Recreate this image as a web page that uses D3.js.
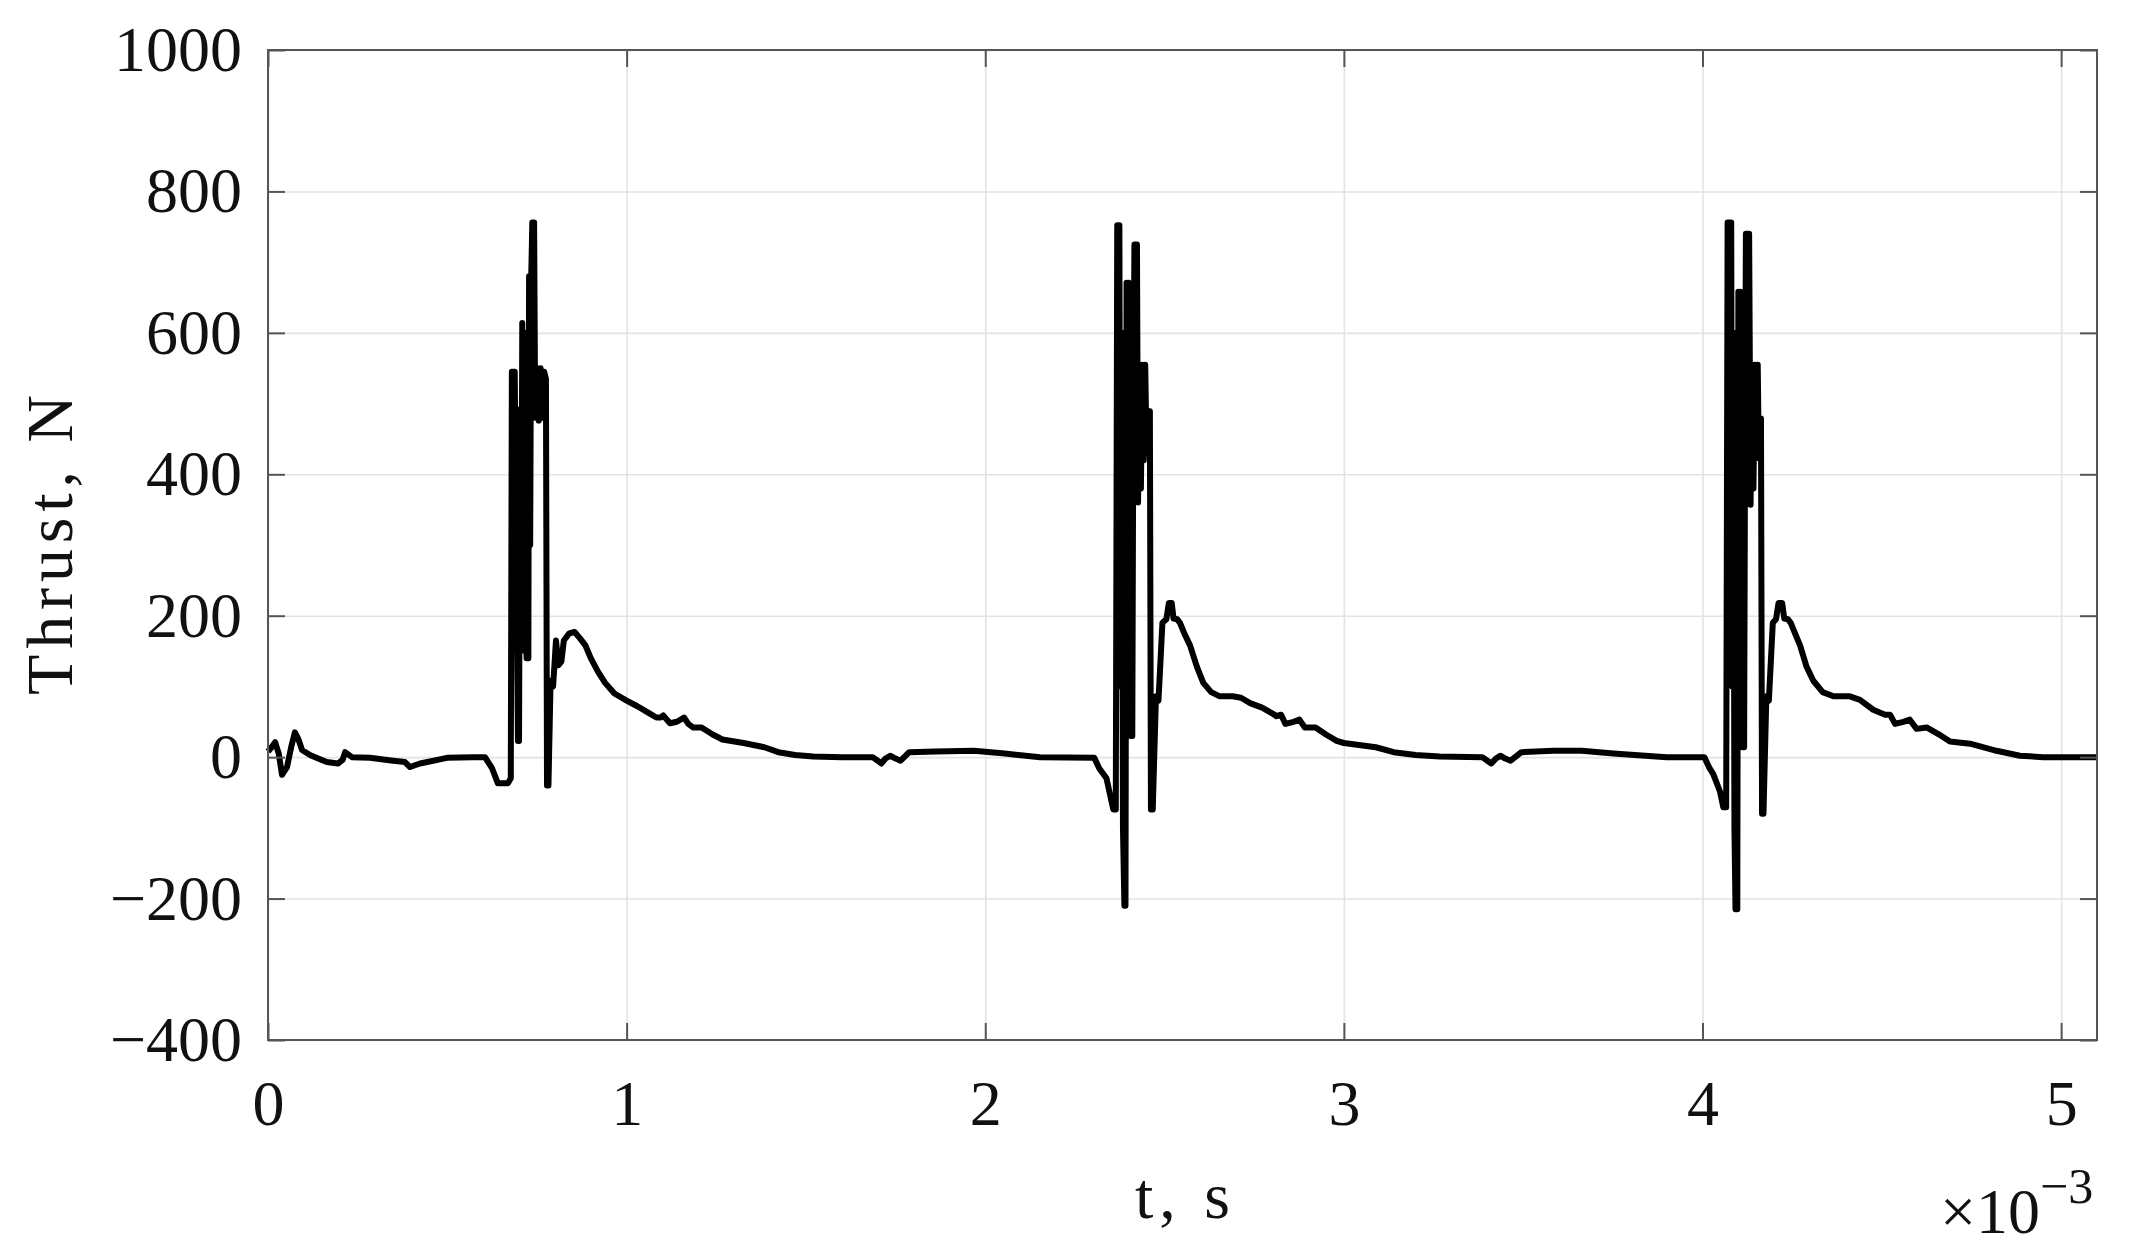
<!DOCTYPE html>
<html>
<head>
<meta charset="utf-8">
<script src="https://cdn.jsdelivr.net/npm/d3@7"></script>
<style>
  html, body { margin: 0; padding: 0; background: #fff; }
  svg { display: block; }
</style>
</head>
<body>
<svg id="chart" width="2142" height="1255"></svg>
<script>
// ---- Data: [time (×1e-3 s), thrust (N)] ----
const startup = [
  [0.000, 8], [0.010, 14], [0.020, 21], [0.030, 5], [0.039, -25], [0.053, -14],
  [0.065, 15], [0.075, 35], [0.085, 25], [0.095, 10], [0.117, 3], [0.140, -2],
  [0.164, -7], [0.195, -9], [0.208, -4], [0.215, 7], [0.234, 0], [0.284, -1],
  [0.349, -5], [0.382, -7], [0.396, -14], [0.424, -9], [0.499, -1], [0.572, 0],
  [0.605, 0], [0.625, -16], [0.641, -37], [0.669, -37], [0.677, -30]
];
const burst1 = [
  [0.680, 545], [0.688, 545], [0.692, 300], [0.697, 23], [0.700, 23], [0.703, 492],
  [0.706, 150], [0.709, 614], [0.712, 180], [0.715, 600], [0.718, 200], [0.721, 140],
  [0.724, 560], [0.726, 140], [0.728, 680], [0.731, 300], [0.734, 680], [0.737, 756],
  [0.742, 756], [0.745, 480], [0.750, 550], [0.755, 476], [0.760, 550], [0.765, 480],
  [0.770, 545], [0.775, 535], [0.778, -40], [0.782, -40], [0.788, 108], [0.795, 100],
  [0.803, 165], [0.810, 130], [0.818, 135], [0.825, 165]
];
const decay1 = [
  [0.840, 175], [0.855, 177], [0.870, 168], [0.885, 158], [0.900, 140], [0.920, 121],
  [0.940, 105], [0.966, 90], [1.000, 80], [1.030, 72], [1.060, 63], [1.083, 56],
  [1.095, 56], [1.102, 59], [1.121, 48], [1.140, 50], [1.160, 56], [1.172, 47],
  [1.185, 42], [1.209, 42], [1.240, 32], [1.267, 25], [1.326, 20], [1.384, 14],
  [1.423, 7], [1.470, 3], [1.520, 1], [1.600, 0], [1.686, 0], [1.700, -5],
  [1.710, -9], [1.722, -2], [1.735, 2], [1.750, -2], [1.764, -5], [1.788, 7],
  [1.861, 8], [1.968, 9], [2.055, 5], [2.153, 0], [2.304, -1], [2.318, -16],
  [2.338, -30], [2.357, -74], [2.364, -74]
];
const burst2 = [
  [2.368, 752], [2.374, 752], [2.377, 100], [2.380, 600], [2.384, -100], [2.388, -210],
  [2.391, -210], [2.394, 671], [2.397, 150], [2.400, 671], [2.403, 200], [2.406, 30],
  [2.410, 30], [2.413, 500], [2.416, 725], [2.423, 725], [2.426, 360], [2.430, 555],
  [2.434, 380], [2.438, 555], [2.442, 420], [2.446, 555], [2.450, 430], [2.453, 489],
  [2.459, 489], [2.462, -74], [2.467, -74], [2.476, 86], [2.483, 80], [2.490, 150],
  [2.494, 190], [2.505, 195], [2.512, 218], [2.520, 218], [2.525, 196], [2.535, 195]
];
const decay2 = [
  [2.543, 190], [2.555, 175], [2.571, 158], [2.590, 128], [2.608, 105], [2.630, 92],
  [2.654, 86], [2.690, 86], [2.713, 84], [2.740, 76], [2.772, 70], [2.800, 62],
  [2.812, 58], [2.825, 60], [2.837, 47], [2.860, 50], [2.876, 53], [2.891, 42],
  [2.921, 42], [2.950, 32], [2.980, 23], [3.000, 20], [3.089, 14], [3.139, 7],
  [3.200, 3], [3.267, 1], [3.386, 0], [3.400, -5], [3.411, -9], [3.424, -2],
  [3.436, 2], [3.450, -2], [3.465, -5], [3.495, 7], [3.584, 9], [3.663, 9],
  [3.752, 5], [3.900, 0], [4.005, 0], [4.020, -16], [4.030, -24], [4.049, -49],
  [4.058, -71], [4.066, -71]
];
const burst3 = [
  [4.070, 756], [4.080, 756], [4.083, 100], [4.086, 600], [4.089, -100], [4.092, -215],
  [4.097, -215], [4.100, 658], [4.103, 150], [4.106, 658], [4.109, 200], [4.112, 14],
  [4.116, 14], [4.119, 500], [4.121, 740], [4.130, 740], [4.134, 357], [4.138, 555],
  [4.142, 380], [4.146, 555], [4.150, 423], [4.154, 555], [4.157, 423], [4.160, 479],
  [4.163, 479], [4.166, -80], [4.170, -80], [4.178, 86], [4.185, 80], [4.192, 150],
  [4.196, 190], [4.205, 195], [4.212, 218], [4.222, 218], [4.228, 196], [4.238, 195]
];
const decay3 = [
  [4.246, 190], [4.258, 175], [4.272, 158], [4.290, 128], [4.309, 108], [4.335, 92],
  [4.365, 86], [4.411, 86], [4.439, 81], [4.476, 67], [4.509, 60], [4.523, 60],
  [4.537, 47], [4.560, 50], [4.578, 53], [4.597, 40], [4.625, 42], [4.660, 32],
  [4.690, 22], [4.746, 19], [4.820, 9], [4.885, 2], [4.950, 0], [5.000, 0], [5.100, 0]
];
const xTicks = [0, 1, 2, 3, 4, 5];
const yTicks = [-400, -200, 0, 200, 400, 600, 800, 1000];
const xDomain = [0, 5.1];
const yDomain = [-400, 1000];
const xLabel = "t, s";
const yLabel = "Thrust, N";

// ---- Layout ----
const svg = d3.select("#chart");
const L = 268, R = 2097, T = 50, B = 1040;
const W = R - L, H = B - T;
const FONT = "'Liberation Serif', 'Times New Roman', serif";
const AXIS_COLOR = "#555";

const x = d3.scaleLinear().domain(xDomain).range([L, R]);
const y = d3.scaleLinear().domain(yDomain).range([B, T]);

// grid
const grid = svg.append("g").attr("class", "grid");
grid.append("g")
  .attr("transform", `translate(0,${B})`)
  .call(d3.axisBottom(x).tickValues(xTicks).tickSize(-H).tickFormat(""))
  .call(g => g.select(".domain").remove())
  .call(g => g.selectAll("line").attr("stroke", "#e3e3e3").attr("stroke-width", 1.6));
grid.append("g")
  .attr("transform", `translate(${L},0)`)
  .call(d3.axisLeft(y).tickValues(yTicks).tickSize(-W).tickFormat(""))
  .call(g => g.select(".domain").remove())
  .call(g => g.selectAll("line").attr("stroke", "#e3e3e3").attr("stroke-width", 1.6));

// data line
const pts = [].concat(startup, burst1, decay1, burst2, decay2, burst3, decay3);
const line = d3.line().x(d => x(d[0])).y(d => y(d[1]));
svg.append("path")
  .datum(pts)
  .attr("d", line)
  .attr("fill", "none")
  .attr("stroke", "#000")
  .attr("stroke-width", 6)
  .attr("stroke-linejoin", "round")
  .attr("stroke-linecap", "butt");

// axes (inward ticks)
const TICK = 17;
function styleAxis(g, showText) {
  g.select(".domain").remove();
  g.selectAll(".tick line").attr("stroke", AXIS_COLOR).attr("stroke-width", 2);
  g.selectAll(".tick text")
    .attr("font-family", FONT)
    .attr("font-size", 64)
    .attr("fill", "#111");
  if (!showText) g.selectAll(".tick text").remove();
}
svg.append("g")
  .attr("transform", `translate(0,${B})`)
  .call(d3.axisBottom(x).tickValues(xTicks).tickSize(-TICK).tickPadding(40).tickFormat(d3.format("d")))
  .call(g => styleAxis(g, true));
svg.append("g")
  .attr("transform", `translate(0,${T})`)
  .call(d3.axisTop(x).tickValues(xTicks).tickSize(-TICK))
  .call(g => styleAxis(g, false));
svg.append("g")
  .attr("transform", `translate(${L},0)`)
  .call(d3.axisLeft(y).tickValues(yTicks).tickSize(-TICK).tickPadding(26).tickFormat(d3.format("d")))
  .call(g => styleAxis(g, true));
svg.append("g")
  .attr("transform", `translate(${R},0)`)
  .call(d3.axisRight(y).tickValues(yTicks).tickSize(-TICK))
  .call(g => styleAxis(g, false));

// box
svg.append("rect")
  .attr("x", L).attr("y", T).attr("width", W).attr("height", H)
  .attr("fill", "none").attr("stroke", AXIS_COLOR).attr("stroke-width", 2);

// axis labels
svg.append("text")
  .attr("x", (L + R) / 2).attr("y", 1218)
  .attr("text-anchor", "middle")
  .attr("font-family", FONT).attr("font-size", 66).attr("fill", "#111")
  .attr("textLength", 95).attr("lengthAdjust", "spacing")
  .text(xLabel);

svg.append("text")
  .attr("transform", `translate(72,${(T + B) / 2}) rotate(-90)`)
  .attr("text-anchor", "middle")
  .attr("font-family", FONT).attr("font-size", 66).attr("fill", "#111")
  .attr("textLength", 300).attr("lengthAdjust", "spacing")
  .text(yLabel);

// exponent multiplier
const mult = svg.append("text")
  .attr("x", 1940).attr("y", 1233)
  .attr("font-family", FONT).attr("font-size", 64).attr("fill", "#111");
mult.append("tspan").text("\u00d710");
mult.append("tspan").attr("font-size", 50).attr("dy", -30).text("\u22123");
</script>
</body>
</html>
